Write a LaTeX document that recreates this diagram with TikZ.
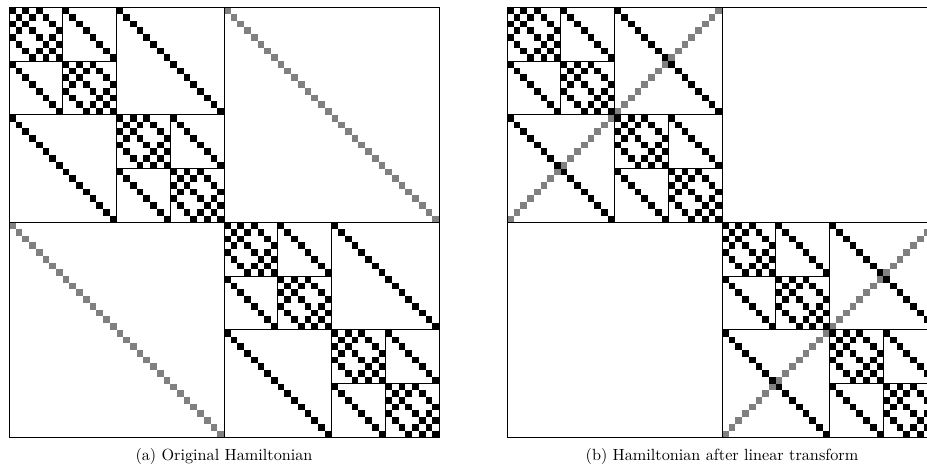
\documentclass[tikz,border=0pt]{standalone}
\definecolor{cellgray}{RGB}{128,128,128}
\tikzset{
  cellblack/.style={fill=black},
  cellgrey/.style={fill=cellgray},
  gridline/.style={draw=black,line width=0.9pt},
  caption/.style={scale=1.62,inner sep=0pt}
}
% one matrix entry at (column, row) in cell units
\newcommand\mcell[3]{\path[#3] (#1,#2) rectangle ++(1,1);}
% entries shared by both panels: diagonal and the +-2, +-4, +-8, +-16 bit flips
\newcommand\blackpattern{%
  \foreach \i in {0,...,63}{
    \pgfmathtruncatemacro\ja{mod(\i,4)<2 ? \i+2 : \i-2}
    \pgfmathtruncatemacro\jb{mod(\i,8)<4 ? \i+4 : \i-4}
    \pgfmathtruncatemacro\jc{mod(\i,16)<8 ? \i+8 : \i-8}
    \pgfmathtruncatemacro\jd{mod(\i,32)<16 ? \i+16 : \i-16}
    \mcell{\i}{\i}{cellblack}
    \mcell{\ja}{\i}{cellblack}
    \mcell{\jb}{\i}{cellblack}
    \mcell{\jc}{\i}{cellblack}
    \mcell{\jd}{\i}{cellblack}
  }}
% block frames: outer box, halves, and recursive split of diagonal blocks
\newcommand\blockframes{%
  \draw[gridline] (0,0) rectangle (64,64);
  \draw[gridline] (32,0) -- (32,64) (0,32) -- (64,32);
  \foreach \b in {0,32}{
    \draw[gridline] (\b+16,\b) -- (\b+16,\b+32) (\b,\b+16) -- (\b+32,\b+16);
  }
  \foreach \b in {0,16,32,48}{
    \draw[gridline] (\b+8,\b) -- (\b+8,\b+16) (\b,\b+8) -- (\b+16,\b+8);
  }}
\begin{document}
\begin{tikzpicture}[x=1pt,y=-1pt]
  \useasboundingbox (0,0) rectangle (927,472);
  \clip (0,0) rectangle (927,472);
  \fill[white] (0,0) rectangle (927,472);

  % (a) original Hamiltonian
  \begin{scope}[shift={(9,7.3)},x=6.71875pt,y=-6.71875pt]
    \blackpattern
    \foreach \i in {0,...,63}{
      \pgfmathtruncatemacro\jg{\i<32 ? \i+32 : \i-32}
      \mcell{\jg}{\i}{cellgrey}
    }
    \blockframes
  \end{scope}

  % (b) after the linear transform
  \begin{scope}[shift={(507,7.3)},x=6.71875pt,y=-6.71875pt]
    \blackpattern
    \foreach \i in {0,...,63}{
      \pgfmathtruncatemacro\jg{32*int(\i/32)+31-mod(\i,32)}
      \mcell{\jg}{\i}{cellgrey}
    }
    \blockframes
  \end{scope}

  \node[caption] (capa) at (224,456) {(a) Original Hamiltonian};
  \node[caption] (capb) at (722,456) {(b) Hamiltonian after linear transform};
\end{tikzpicture}
\end{document}
